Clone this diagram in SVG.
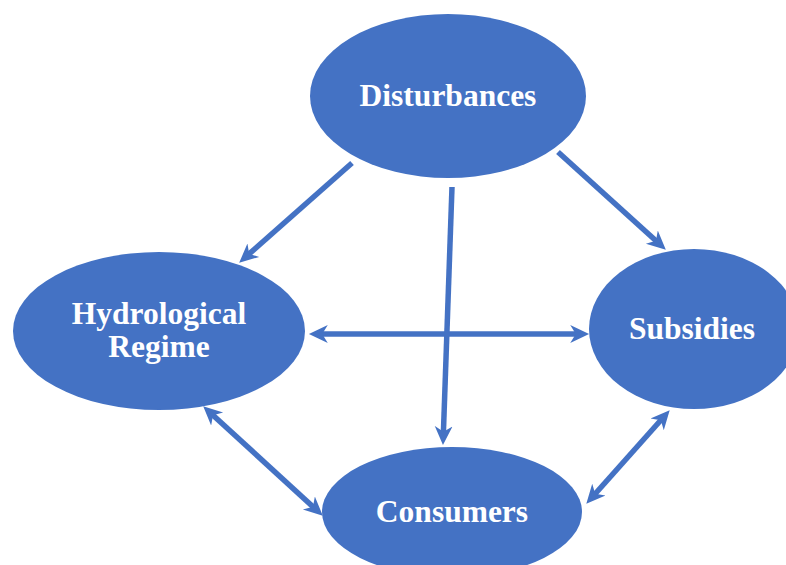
<svg xmlns="http://www.w3.org/2000/svg" width="786" height="565" viewBox="0 0 786 565">
<style>
.node{fill:#4472C4;}
.lbl{font-family:"Liberation Serif","Times New Roman",serif;font-weight:bold;font-size:31.5px;fill:#FFFFFF;text-anchor:middle;}
.conn line{stroke:#4472C4;stroke-width:5.5;fill:none;}
</style>
<defs>
<marker id="ah" markerUnits="userSpaceOnUse" markerWidth="20" markerHeight="20" viewBox="0 -9 18 18" refX="7" refY="0" orient="auto-start-reverse">
<path d="M0,-8 L17,0 L0,8 L5,0 Z" fill="#4472C4"/>
</marker>
</defs>
<rect width="786" height="565" fill="#FFFFFF"/>
<g id="disturbances">
<ellipse class="node" cx="448" cy="96" rx="138" ry="82"/>
<text class="lbl" x="448" y="106">Disturbances</text>
</g>
<g id="hydrological">
<ellipse class="node" cx="159" cy="331" rx="146" ry="79"/>
<text class="lbl" x="159" y="324">Hydrological</text>
<text class="lbl" x="159" y="357">Regime</text>
</g>
<g id="subsidies">
<ellipse class="node" cx="694" cy="329" rx="105" ry="80"/>
<text class="lbl" x="692" y="339">Subsidies</text>
</g>
<g id="consumers">
<ellipse class="node" cx="452" cy="512" rx="130" ry="65"/>
<text class="lbl" x="452" y="522">Consumers</text>
</g>
<g class="conn" id="connectors">
<line x1="352" y1="163" x2="247.5" y2="255.4" marker-end="url(#ah)"/>
<line x1="558" y1="152" x2="657.6" y2="242.3" marker-end="url(#ah)"/>
<line x1="320" y1="334" x2="578" y2="334" marker-start="url(#ah)" marker-end="url(#ah)"/>
<line x1="452" y1="187" x2="443.35" y2="434" marker-end="url(#ah)"/>
<line x1="211.4" y1="413.75" x2="314.6" y2="508.25" marker-start="url(#ah)" marker-end="url(#ah)"/>
<line x1="662.3" y1="418.5" x2="593.7" y2="495.5" marker-start="url(#ah)" marker-end="url(#ah)"/>
</g>
</svg>
